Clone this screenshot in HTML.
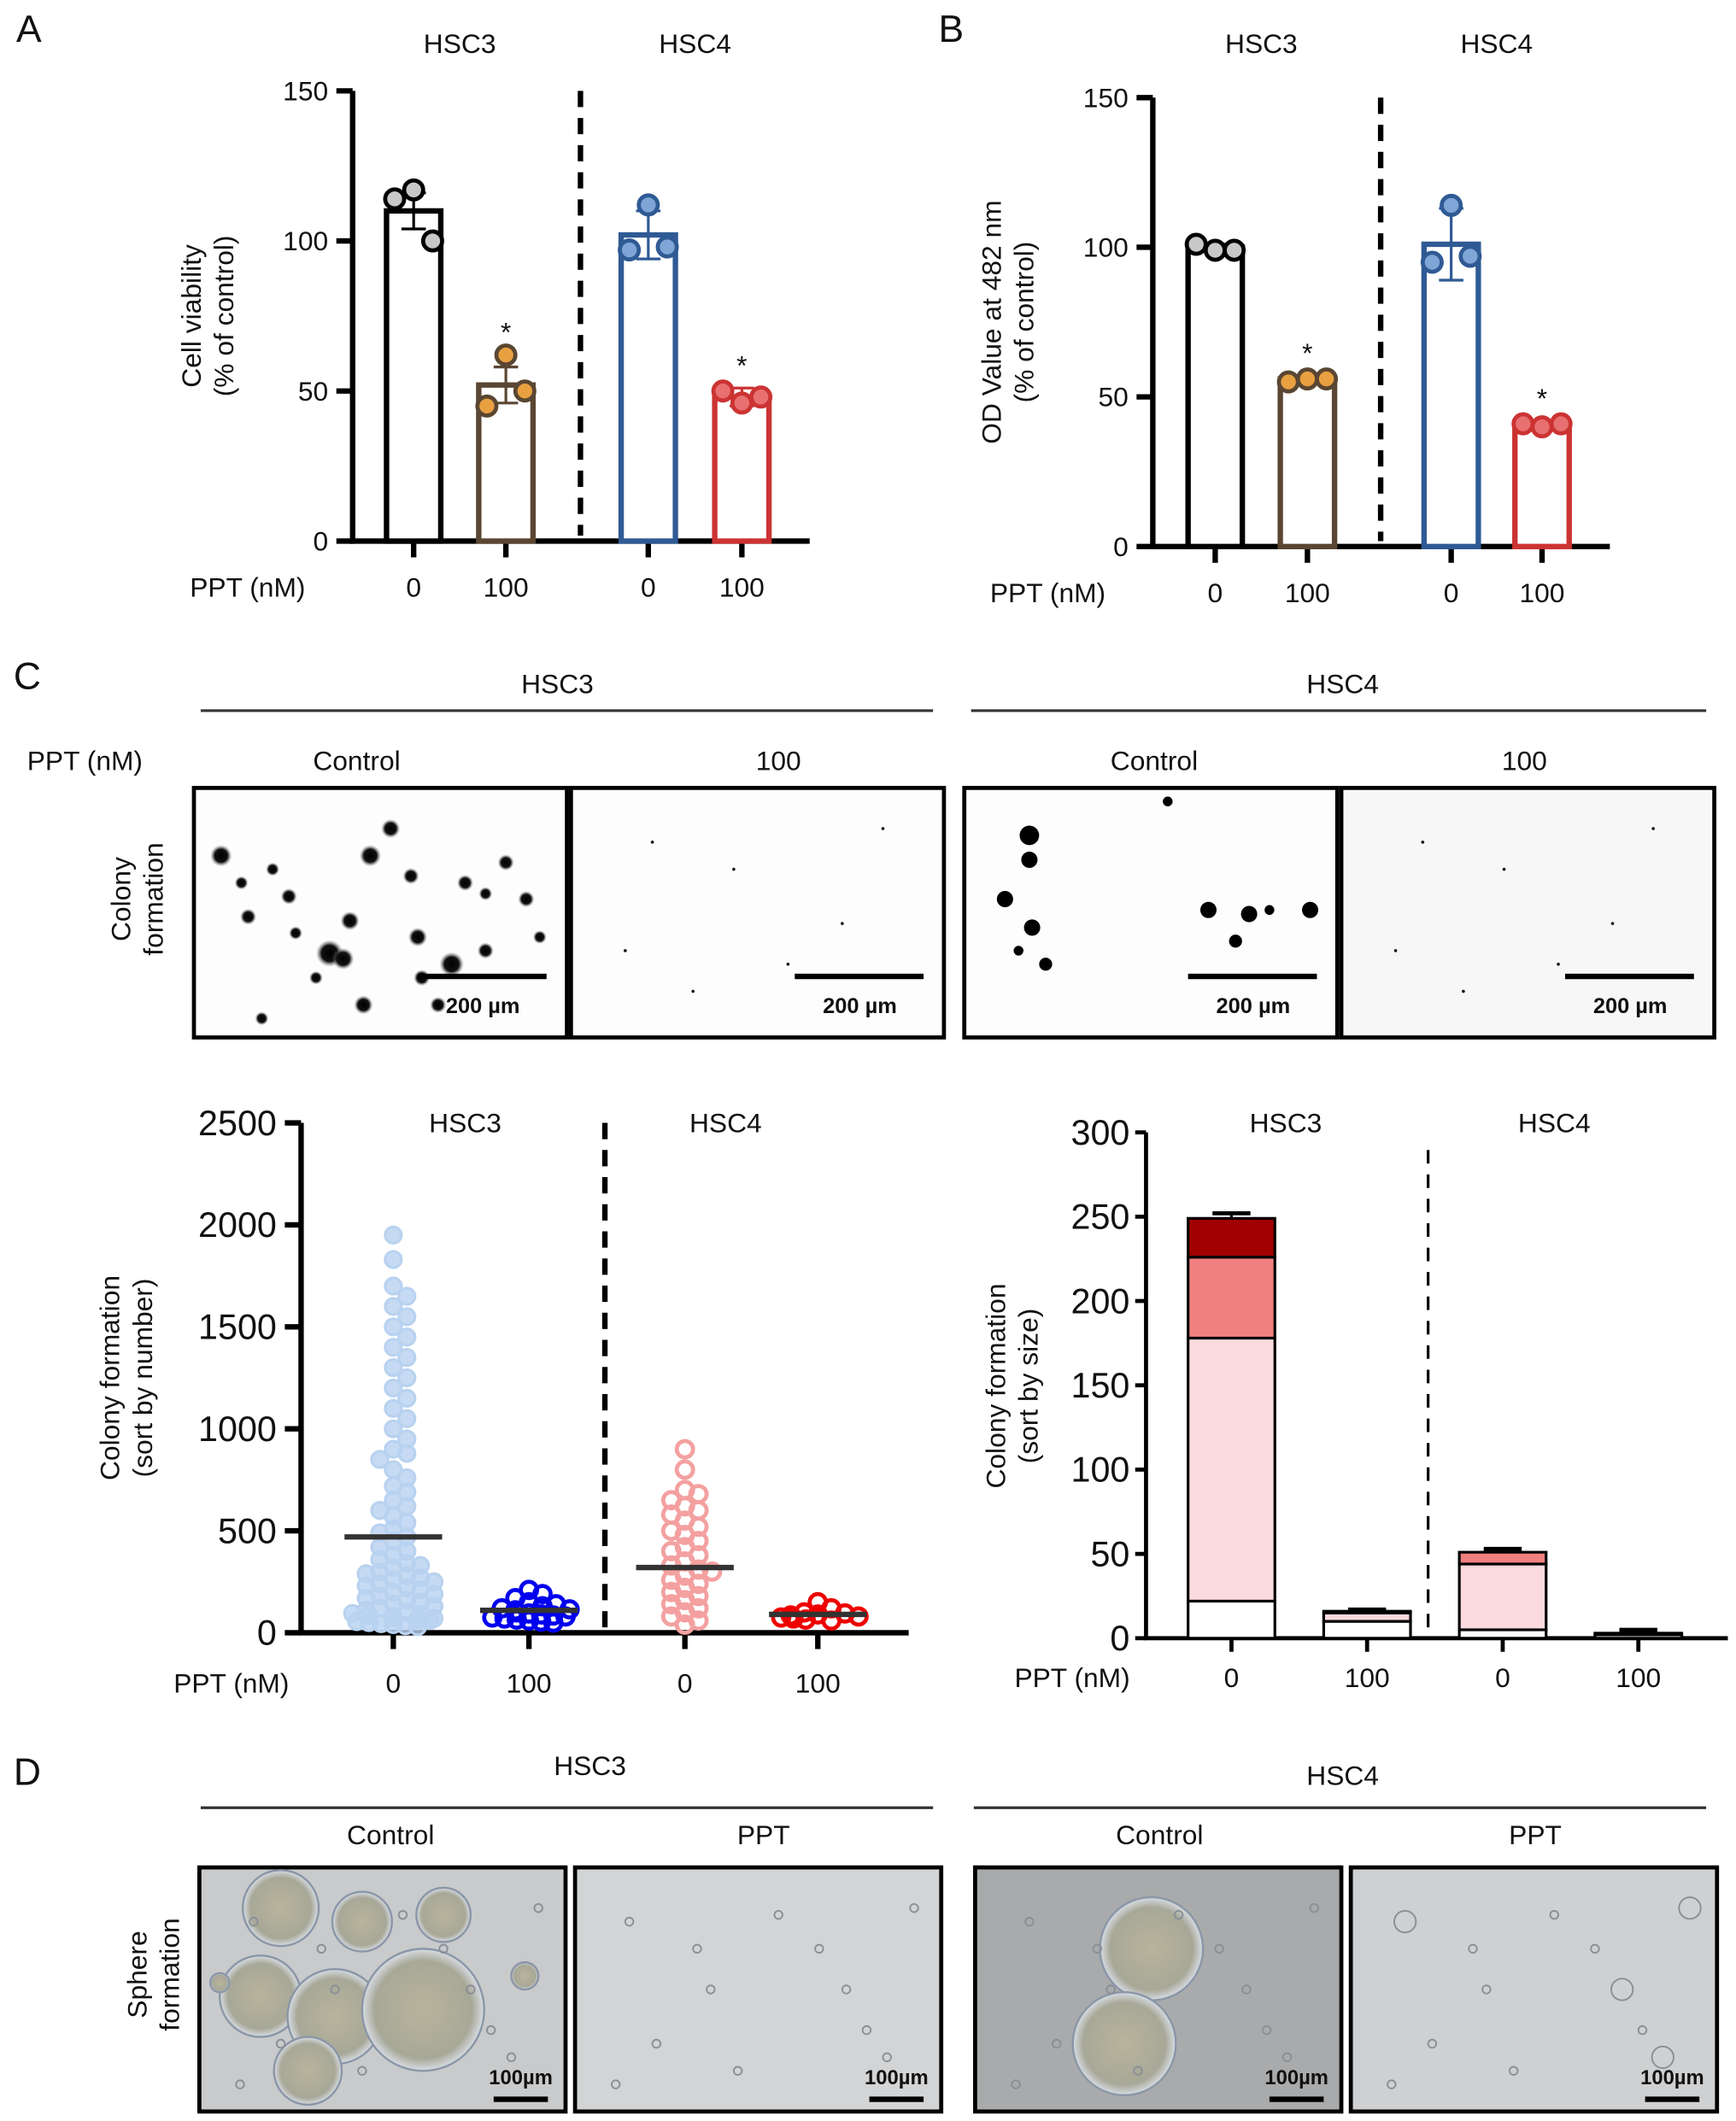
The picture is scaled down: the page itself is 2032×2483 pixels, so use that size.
<!DOCTYPE html>
<html><head><meta charset="utf-8"><style>
html,body{margin:0;padding:0;background:#fff}
svg{display:block}
text{font-family:"Liberation Sans",sans-serif;fill:#111}
</style></head><body>
<svg id="fig" width="2032" height="2483" viewBox="0 0 1280 1564" preserveAspectRatio="none" xmlns="http://www.w3.org/2000/svg">
<defs>
<radialGradient id="blob"><stop offset="0" stop-color="#000"/><stop offset="0.6" stop-color="#111"/><stop offset="1" stop-color="#888" stop-opacity="0"/></radialGradient>
<radialGradient id="sph"><stop offset="0" stop-color="#b8b49c"/><stop offset="0.8" stop-color="#a8a898"/><stop offset="1" stop-color="#d8dde4"/></radialGradient>
</defs>
<g id="static">
<text x="12" y="31" font-size="28">A</text>
<text x="692" y="31" font-size="28">B</text>
<text x="10" y="508" font-size="28">C</text>
<text x="10" y="1316" font-size="28">D</text>

<text x="411" y="511" font-size="20" text-anchor="middle">HSC3</text>
<line x1="148" y1="524" x2="688" y2="524" stroke="#333" stroke-width="2"/>
<text x="990" y="511" font-size="20" text-anchor="middle">HSC4</text>
<line x1="716" y1="524" x2="1258" y2="524" stroke="#333" stroke-width="2"/>
<text x="20" y="568" font-size="20">PPT (nM)</text>
<text x="263" y="568" font-size="20" text-anchor="middle">Control</text>
<text x="574" y="568" font-size="20" text-anchor="middle">100</text>
<text x="851" y="568" font-size="20" text-anchor="middle">Control</text>
<text x="1124" y="568" font-size="20" text-anchor="middle">100</text>
<text transform="translate(100,663) rotate(-90)" font-size="20" text-anchor="middle"><tspan x="0" dy="-4">Colony</tspan><tspan x="0" dy="24">formation</tspan></text>

<text x="435" y="1309" font-size="20" text-anchor="middle">HSC3</text>
<line x1="148" y1="1333" x2="688" y2="1333" stroke="#333" stroke-width="2"/>
<text x="990" y="1316" font-size="20" text-anchor="middle">HSC4</text>
<line x1="718" y1="1333" x2="1258" y2="1333" stroke="#333" stroke-width="2"/>
<text x="288" y="1360" font-size="20" text-anchor="middle">Control</text>
<text x="563" y="1360" font-size="20" text-anchor="middle">PPT</text>
<text x="855" y="1360" font-size="20" text-anchor="middle">Control</text>
<text x="1132" y="1360" font-size="20" text-anchor="middle">PPT</text>
<text transform="translate(112,1456) rotate(-90)" font-size="20" text-anchor="middle"><tspan x="0" dy="-4">Sphere</tspan><tspan x="0" dy="24">formation</tspan></text>
</g>
<g id="dyn"></g>
</svg>
<script>
// ---------- Panel A data ----------
const aCats = ["HSC3 0","HSC3 100","HSC4 0","HSC4 100"];
const aMeans = [110, 52, 102, 48];
const aErr = [6, 6, 8, 3];
const aPts = [[114,117,100],[45,62,50],[97,112,98],[50,46,48]];
// ---------- Panel B data ----------
const bMeans = [100, 56, 101, 41];
const bErr = [1, 1, 12, 1];
const bPts = [[101,99,99],[55,56,56],[95,114,97],[41,40,41]];
const barTicks = [0,50,100,150];
const xLabels = ["0","100","0","100"];
// ---------- Scatter data (colony number) ----------
const sMeans = [470, 110, 320, 90];
const sHSC3c = [1950,1830,1700,1650,1600,1550,1500,1450,1400,1350,1300,1250,1200,1150,1100,1050,1000,950,900,880,850,800,760,720,690,650,620,600,570,540,510,490,470,450,420,400,380,360,340,330,320,300,290,280,270,260,250,240,230,220,210,200,190,180,170,160,150,140,130,120,110,100,95,90,85,80,75,70,65,60,55,50,45,40,35,30];
const sHSC3t = [210,190,170,150,140,130,120,115,110,100,95,90,85,80,75,70,65,60,55,50];
const sHSC4c = [900,800,700,680,650,620,600,580,550,520,500,480,450,420,400,380,350,330,310,300,280,260,240,220,200,180,160,140,120,100,80,60,40];
const sHSC4t = [150,120,100,95,90,85,80,75,70,65,60];
const sTicks = [0,500,1000,1500,2000,2500];
// ---------- Stacked data (colony size) ----------
const stWhite = [22, 10, 5, 2];
const stPink = [156, 5, 39, 1];
const stSalmon = [48, 1, 7, 0];
const stDark = [23, 0, 0, 0];
const stErrWhite = [10, 1, 2, 3];
const stErrPink = [22, 1, 2, 0];
const stErrSalmon = [9, 0, 2, 0];
const stErrDark = [3, 1, 0, 0];
const stTicks = [0,50,100,150,200,250,300];

const NS="http://www.w3.org/2000/svg";
const root=document.getElementById('dyn');
function mk(tag,attrs,parent){const e=document.createElementNS(NS,tag);for(const k in attrs)e.setAttribute(k,attrs[k]);(parent||root).appendChild(e);return e;}
function txt(s,attrs,parent){const e=mk('text',attrs,parent);e.textContent=s;return e;}

function barPanel(o){
  const g=mk('g',{});
  
  
  const y=v=>o.y0-(v/150)*(o.y0-o.y150);
  const ax=mk('line',{x1:o.ax,y1:o.y150,x2:o.ax,y2:o.y0+2,stroke:'#000','stroke-width':4},g);
  
  
  const xa=mk('line',{x1:o.ax-2,y1:o.y0,x2:o.xend,y2:o.y0,stroke:'#000','stroke-width':4},g);
  
  
  barTicks.forEach(t=>{
    mk('line',{x1:o.ax-12,y1:y(t),x2:o.ax,y2:y(t),stroke:'#000','stroke-width':4},g);
    const tl=txt(String(t),{x:o.ax-18,y:y(t)+7,'font-size':20,'text-anchor':'end'},g);
    
    
  });
  const yt=txt('',{transform:`translate(${o.ax-108},${(o.y0+o.y150)/2}) rotate(-90)`,'font-size':20,'text-anchor':'middle'},g);
  
  
  o.ytitle.forEach((s,i)=>{const t=mk('tspan',{x:0,dy:i?24:-4},yt);t.textContent=s;});
  const dl=mk('line',{x1:o.dash,y1:o.y150,x2:o.dash,y2:o.y0-4,stroke:'#000','stroke-width':4,'stroke-dasharray':'12,8'},g);
  
  
  txt('HSC3',{x:(o.xs[0]+o.xs[1])/2,y:39,'font-size':20,'text-anchor':'middle'},g);
  txt('HSC4',{x:(o.xs[2]+o.xs[3])/2,y:39,'font-size':20,'text-anchor':'middle'},g);
  const pl=txt('PPT (nM)',{x:o.ax-120,y:o.y0+41,'font-size':20},g);
  
  
  const cols=['#000','#5a4632','#2f5a94','#cc3333'];
  const fills=['#c8c8c8','#e8a040','#7fa6d6','#e87070'];
  o.means.forEach((m,i)=>{
    const x=o.xs[i];
    mk('line',{x1:x,y1:o.y0,x2:x,y2:o.y0+12,stroke:'#000','stroke-width':4},g);
    const xl=txt(xLabels[i],{x:x,y:o.y0+41,'font-size':20,'text-anchor':'middle'},g);
    
    
    const b=mk('rect',{x:x-20,y:y(m),width:40,height:o.y0-y(m),fill:'#fff',stroke:cols[i],'stroke-width':4},g);
    
    
    const e=o.err[i];
    mk('line',{x1:x,y1:y(m+e),x2:x,y2:y(m-e),stroke:cols[i],'stroke-width':2},g);
    mk('line',{x1:x-9,y1:y(m+e),x2:x+9,y2:y(m+e),stroke:cols[i],'stroke-width':2},g);
    mk('line',{x1:x-9,y1:y(m-e),x2:x+9,y2:y(m-e),stroke:cols[i],'stroke-width':2},g);
    o.pts[i].forEach((p,j)=>{
      const c=mk('circle',{cx:x+(j-1)*14,cy:y(p),r:7,fill:fills[i],stroke:i==0?'#000':cols[i],'stroke-width':3},g);
      
      
    });
    if(i%2==1){const hi=Math.max(...o.pts[i],m+e);const s=txt('*',{x:x,y:y(hi)-10,'font-size':20,'text-anchor':'middle'},g);
      
      }
  });
}
barPanel({name:'chart-a-cell-viability',ax:260,y0:399,y150:67,xend:597,dash:428,xs:[305,373,478,547],means:aMeans,err:aErr,pts:aPts,ytitle:['Cell viability','(% of control)']});
barPanel({name:'chart-b-od-value',ax:850,y0:403,y150:72,xend:1187,dash:1018,xs:[896,964,1070,1137],means:bMeans,err:bErr,pts:bPts,ytitle:['OD Value at 482 nm','(% of control)']});

// ---------- colony images ----------
const colonyBoxes=[[143,'colony-hsc3-control'],[421,'colony-hsc3-100'],[711,'colony-hsc4-control'],[989,'colony-hsc4-100']];
const blobs3=[[20,50,8],[35,70,5],[40,95,6],[58,60,5],[70,80,6],[75,107,5],[100,122,10],[110,126,8],[115,98,7],[130,50,8],[145,30,7],[160,65,6],[165,110,7],[168,140,6],[180,160,6],[190,130,9],[200,70,6],[215,120,6],[230,55,6],[245,82,6],[255,110,5],[215,78,5],[90,140,5],[50,170,5],[125,160,7]];
const blobs4=[[48,35,6],[48,53,5],[30,82,5],[50,103,5],[40,120,3],[60,130,4],[180,90,5],[200,113,4],[210,93,5],[225,90,3],[255,90,5],[150,10,3]];
colonyBoxes.forEach(([x,n],i)=>{
  const g=mk('g',{});
  
  
  mk('rect',{x:x,y:581,width:275,height:184,fill:i==3?'#f7f7f7':'#fdfdfd',stroke:'#000','stroke-width':3},g);
  const bl=i==0?blobs3:i==2?blobs4:[[60,40,1.5],[120,60,1.5],[200,100,1.5],[90,150,1.5],[230,30,1.5],[40,120,1.5],[160,130,1.5]];
  bl.forEach(([bx,by,r])=>mk('circle',{cx:x+bx,cy:581+by,r:r*(i==2?1.2:1),fill:i==2?'#000':'url(#blob)'},g));
  mk('line',{x1:x+165,y1:720,x2:x+260,y2:720,stroke:'#000','stroke-width':4},g);
  txt('200 µm',{x:x+213,y:747,'font-size':16,'font-weight':'bold','text-anchor':'middle'},g);
});

// ---------- scatter ----------
(function(){
  const g=mk('g',{});
  
  
  const ax=222,y0=1204,ytop=828;
  const y=v=>y0-v/2500*(y0-ytop);
  mk('line',{x1:ax,y1:ytop,x2:ax,y2:y0,stroke:'#000','stroke-width':4},g);
  mk('line',{x1:ax-2,y1:y0,x2:670,y2:y0,stroke:'#000','stroke-width':4},g);
  sTicks.forEach(t=>{mk('line',{x1:ax-12,y1:y(t),x2:ax,y2:y(t),stroke:'#000','stroke-width':4},g);
    const tl=txt(String(t),{x:ax-18,y:y(t)+9,'font-size':26,'text-anchor':'end'},g);
    
    });
  const yt=txt('',{transform:`translate(92,1016) rotate(-90)`,'font-size':20,'text-anchor':'middle'},g);
  
  
  ['Colony formation','(sort by number)'].forEach((s,i)=>{const t=mk('tspan',{x:0,dy:i?24:-4},yt);t.textContent=s;});
  mk('line',{x1:446,y1:828,x2:446,y2:1200,stroke:'#000','stroke-width':4,'stroke-dasharray':'12,8'},g);
  txt('HSC3',{x:343,y:835,'font-size':20,'text-anchor':'middle'},g);
  txt('HSC4',{x:535,y:835,'font-size':20,'text-anchor':'middle'},g);
  txt('PPT (nM)',{x:128,y:1248,'font-size':20},g);
  const xs=[290,390,505,603];
  const sets=[sHSC3c,sHSC3t,sHSC4c,sHSC4t];
  const fill=['#b8d2f0','none','none','none'];
  const st=['#b8d2f0','#0000ee','#f4a0a0','#ee0000'];
  const maxK=[6,5,6,5];
  sets.forEach((arr,i)=>{
    const x=xs[i];
    mk('line',{x1:x,y1:y0,x2:x,y2:y0+12,stroke:'#000','stroke-width':4},g);
    txt(xLabels[i],{x:x,y:1248,'font-size':20,'text-anchor':'middle'},g);
    // compact beeswarm limited to a narrow band
    const placed=[];
    arr.forEach((v,j)=>{
      const cy=y(v);let off=null;
      for(let k=0;k<=maxK[i];k++){const cand=(k%2?1:-1)*Math.ceil(k/2)*10;
        if(!placed.some(p=>Math.abs(p[0]-cand)<10&&Math.abs(p[1]-cy)<9)){off=cand;break;}}
      if(off===null){off=((j%7)-3)*9;}
      placed.push([off,cy]);
      const c=mk('circle',{cx:x+off,cy:cy,r:6,fill:fill[i],stroke:st[i],'stroke-width':i==0?2:3,'fill-opacity':i==0?0.8:1},g);
      
      
    });
    const ml=mk('line',{x1:x-36,y1:y(sMeans[i]),x2:x+36,y2:y(sMeans[i]),stroke:'#333','stroke-width':4},g);
    
    
  });
})();

// ---------- stacked ----------
(function(){
  const g=mk('g',{});
  
  
  const ax=845,y0=1208,ytop=835;
  const y=v=>y0-v/300*(y0-ytop);
  mk('line',{x1:ax,y1:ytop,x2:ax,y2:y0,stroke:'#000','stroke-width':3},g);
  mk('line',{x1:ax-2,y1:y0,x2:1274,y2:y0,stroke:'#000','stroke-width':3},g);
  stTicks.forEach(t=>{mk('line',{x1:ax-8,y1:y(t),x2:ax,y2:y(t),stroke:'#000','stroke-width':3},g);
    const tl=txt(String(t),{x:ax-12,y:y(t)+9,'font-size':26,'text-anchor':'end'},g);
    
    });
  const yt=txt('',{transform:`translate(745,1022) rotate(-90)`,'font-size':20,'text-anchor':'middle'},g);
  
  
  ['Colony formation','(sort by size)'].forEach((s,i)=>{const t=mk('tspan',{x:0,dy:i?24:-4},yt);t.textContent=s;});
  mk('line',{x1:1053,y1:848,x2:1053,y2:1205,stroke:'#000','stroke-width':2,'stroke-dasharray':'10,8'},g);
  txt('HSC3',{x:948,y:835,'font-size':20,'text-anchor':'middle'},g);
  txt('HSC4',{x:1146,y:835,'font-size':20,'text-anchor':'middle'},g);
  txt('PPT (nM)',{x:748,y:1244,'font-size':20},g);
  const xs=[908,1008,1108,1208];
  const layers=[[stWhite,stErrWhite,'#ffffff'],[stPink,stErrPink,'#fadadd'],[stSalmon,stErrSalmon,'#f08080'],[stDark,stErrDark,'#a00000']];
  xs.forEach((x,i)=>{
    mk('line',{x1:x,y1:y0,x2:x,y2:y0+10,stroke:'#000','stroke-width':3},g);
    txt(xLabels[i],{x:x,y:1244,'font-size':20,'text-anchor':'middle'},g);
    let base=0;
    layers.forEach(([vals,errs,col],li)=>{
      const v=vals[i];
      if(v>0){const r=mk('rect',{x:x-32,y:y(base+v),width:64,height:y(base)-y(base+v),fill:col,stroke:'#000','stroke-width':2},g);
        
        }
      const top=base+v,e=errs[i];
      if(v>0||e>0){
        mk('line',{x1:x,y1:y(top),x2:x,y2:y(top+e),stroke:'#000','stroke-width':2},g);
        mk('line',{x1:x-14,y1:y(top+e),x2:x+14,y2:y(top+e),stroke:'#000','stroke-width':3},g);
      }
      base=top;
    });
  });
})();

// ---------- sphere images ----------
const sphBoxes=[[147,'sphere-hsc3-control','#c9cacb'],[424,'sphere-hsc3-ppt','#d3d4d5'],[719,'sphere-hsc4-control','#a9aaab'],[996,'sphere-hsc4-ppt','#cfd0d1']];
const sph3=[[60,30,28],[120,40,22],[180,35,20],[45,95,30],[100,110,35],[165,105,45],[80,150,25],[240,80,10],[15,85,7]];
const sph4=[[130,60,38],[110,130,38]];
const small=[[40,40],[90,60],[150,35],[200,90],[60,130],[120,150],[230,140],[180,60],[30,160],[250,30],[100,90],[215,120]];
sphBoxes.forEach(([x,n,bg],i)=>{
  const g=mk('g',{});
  
  
  mk('rect',{x:x,y:1377,width:270,height:180,fill:bg,stroke:'#000','stroke-width':3},g);
  const big=i==0?sph3:i==2?sph4:[];
  big.forEach(([bx,by,r])=>mk('circle',{cx:x+bx,cy:1377+by,r:r,fill:'url(#sph)',stroke:'#8a96a8','stroke-width':1.5},g));
  small.forEach(([bx,by],k)=>mk('circle',{cx:x+bx,cy:1377+by,r:i==3&&k%3==0?8:3,fill:'none',stroke:'#8a8f96','stroke-width':1.2},g));
  txt('100µm',{x:x+237,y:1537,'font-size':15,'font-weight':'bold','text-anchor':'middle'},g);
  mk('line',{x1:x+217,y1:1548,x2:x+257,y2:1548,stroke:'#000','stroke-width':4},g);
});
</script>
</body></html>
